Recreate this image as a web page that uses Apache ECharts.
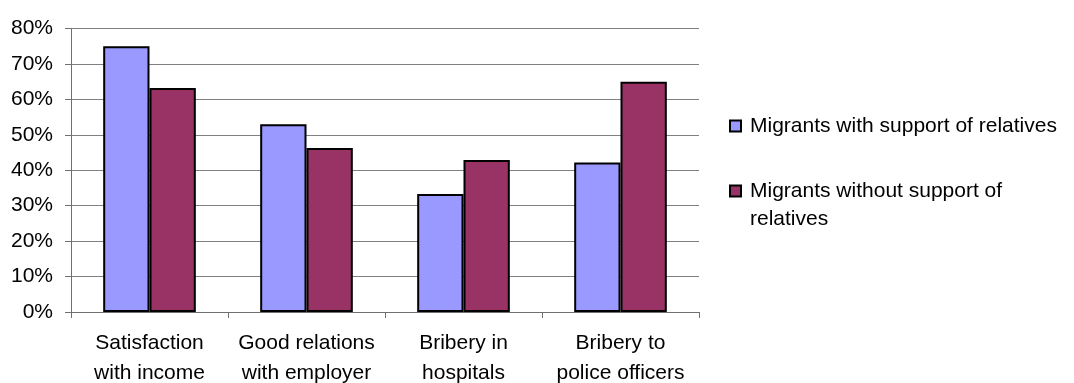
<!DOCTYPE html>
<html>
<head>
<meta charset="utf-8">
<script src="https://cdn.jsdelivr.net/npm/echarts@6/dist/echarts.min.js"></script>
<style>html,body{margin:0;padding:0;background:#fff;}#c{width:1074px;height:383px;}</style>
</head>
<body>
<div id="c"></div>
<script>
const categories = ['Satisfaction\nwith income', 'Good relations\nwith employer', 'Bribery in\nhospitals', 'Bribery to\npolice officers'];
const seriesNames = ['Migrants with support of relatives', 'Migrants without support of relatives'];
const withSupport = [75, 53, 33.3, 42.2];
const withoutSupport = [63.2, 46.3, 42.9, 65];
const yTicks = { min: 0, max: 80, interval: 10 };

const FONT = "'Liberation Sans', Arial, sans-serif";
const chart = echarts.init(document.getElementById('c'), null, { renderer: 'canvas' });
const legendBase = {
  orient: 'vertical', left: 729, padding: 0, itemWidth: 11, itemHeight: 11,
  icon: 'rect', selectedMode: false,
  itemStyle: { borderColor: '#000', borderWidth: 2 }
};
chart.setOption({
  animation: false,
  grid: { left: 71, right: 375, top: 28.5, bottom: 71, containLabel: false, outerBoundsMode: 'none' },
  legend: [
    Object.assign({}, legendBase, {
      data: [seriesNames[0]], top: 114,
      textStyle: { fontFamily: FONT, fontSize: 21, color: '#000', lineHeight: 24, padding: [0, 0, 0, 4] }
    }),
    Object.assign({}, legendBase, {
      data: [seriesNames[1]], top: 149,
      formatter: () => ' \nMigrants without support of\nrelatives',
      textStyle: { fontFamily: FONT, fontSize: 21, color: '#000', lineHeight: 28, padding: [0, 0, 0, 4] }
    })
  ],
  xAxis: {
    type: 'category', data: categories,
    axisLine: { show: true, lineStyle: { color: '#707070', width: 1 } },
    axisTick: { show: true, length: 6, lineStyle: { color: '#707070' } },
    axisLabel: { fontFamily: FONT, fontSize: 21, color: '#000', lineHeight: 30, margin: 16, interval: 0 }
  },
  yAxis: {
    type: 'value', min: yTicks.min, max: yTicks.max, interval: yTicks.interval,
    axisLine: { show: true, lineStyle: { color: '#707070', width: 1 } },
    axisTick: { show: true, length: 6, lineStyle: { color: '#707070' } },
    splitLine: { show: true, lineStyle: { color: '#808080', width: 1 } },
    axisLabel: { fontFamily: FONT, fontSize: 21, color: '#000', margin: 18, formatter: '{value}%' }
  },
  series: [
    { name: seriesNames[0], type: 'bar', data: withSupport, barGap: '0%', barCategoryGap: '41%',
      itemStyle: { color: '#9999FF', borderColor: '#000', borderWidth: 2 } },
    { name: seriesNames[1], type: 'bar', data: withoutSupport, barGap: '0%', barCategoryGap: '41%',
      itemStyle: { color: '#993366', borderColor: '#000', borderWidth: 2 } }
  ]
});
</script>
</body>
</html>
